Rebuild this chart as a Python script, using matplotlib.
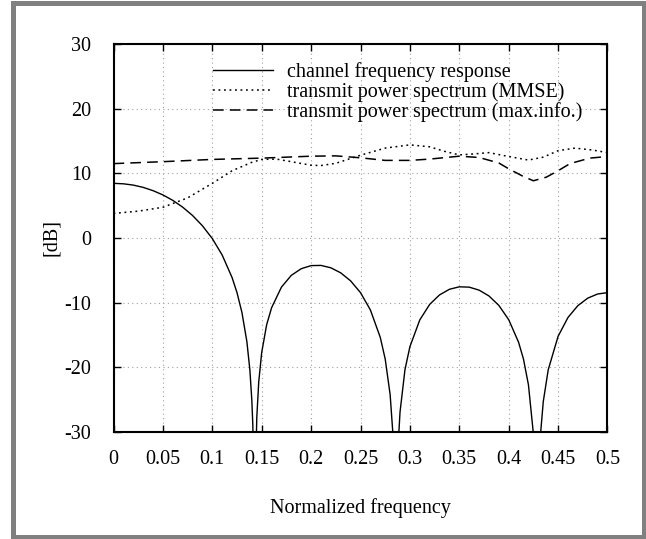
import matplotlib
matplotlib.use("Agg")
import matplotlib.pyplot as plt
from matplotlib.patches import Rectangle

plt.rcParams['font.family'] = ['Liberation Serif', 'DejaVu Serif']
plt.rcParams['axes.unicode_minus'] = False

# channel frequency response [dB] (values below -30 are clipped by the axes)
ch_f = [0.0, 0.01, 0.02, 0.03, 0.04, 0.05, 0.06, 0.07, 0.08, 0.09, 0.10,
        0.11, 0.12, 0.125, 0.13, 0.135, 0.138, 0.140, 0.141, 0.1423, 0.1429,
        0.1434, 0.145, 0.147, 0.15, 0.155, 0.16, 0.17, 0.18, 0.19, 0.20,
        0.21, 0.22, 0.23, 0.24, 0.25, 0.26, 0.27, 0.275, 0.28, 0.283, 0.2857,
        0.288, 0.29, 0.295, 0.30, 0.31, 0.32, 0.33, 0.34, 0.35, 0.36, 0.37,
        0.38, 0.39, 0.40, 0.41, 0.415, 0.42, 0.425, 0.4286, 0.432, 0.435,
        0.44, 0.45, 0.46, 0.47, 0.48, 0.49, 0.50]
ch_db = [8.45, 8.38, 8.18, 7.83, 7.32, 6.66, 5.82, 4.77, 3.48, 1.89, -0.09,
         -2.64, -6.11, -8.45, -11.52, -16.03, -20.36, -25.08, -28.87, -39.4, -60.0,
         -39.7, -27.86, -22.25, -17.70, -13.42, -10.79, -7.59, -5.77, -4.75, -4.27,
         -4.24, -4.61, -5.39, -6.63, -8.45, -11.12, -15.36, -18.71, -24.22, -30.7, -60.0,
         -32.3, -26.93, -20.37, -16.81, -12.67, -10.27, -8.80, -7.93, -7.55, -7.60, -8.06,
         -8.96, -10.42, -12.63, -16.12, -18.75, -22.72, -30.3, -60.0, -30.7, -25.29,
         -20.38, -15.20, -12.29, -10.46, -9.30, -8.66, -8.45]

# transmit power spectrum (MMSE) [dB]
mmse_f = [0.0, 0.025, 0.05, 0.075, 0.10, 0.12, 0.14, 0.15, 0.165, 0.18, 0.20,
          0.21, 0.225, 0.25, 0.275, 0.30, 0.32, 0.335, 0.35, 0.365, 0.38,
          0.40, 0.42, 0.435, 0.45, 0.467, 0.485, 0.50]
mmse_db = [3.8, 4.15, 4.75, 6.2, 8.45, 10.4, 11.7, 12.15, 12.2, 11.8, 11.25,
           11.2, 11.55, 12.8, 13.9, 14.4, 14.1, 13.4, 12.85, 13.0, 13.2,
           12.6, 12.05, 12.5, 13.5, 13.9, 13.6, 13.2]

# transmit power spectrum (max.info.) [dB]
mi_f = [0.0, 0.05, 0.10, 0.15, 0.20, 0.225, 0.25, 0.275, 0.30, 0.32, 0.35,
        0.37, 0.39, 0.40, 0.415, 0.425, 0.438, 0.45, 0.462, 0.482, 0.50]
mi_db = [11.5, 11.8, 12.15, 12.35, 12.65, 12.7, 12.4, 12.0, 12.0, 12.2, 12.65,
         12.45, 11.6, 10.7, 9.5, 8.85, 9.4, 10.4, 11.5, 12.35, 12.6]

xticks = [0, 0.05, 0.1, 0.15, 0.2, 0.25, 0.3, 0.35, 0.4, 0.45, 0.5]
xticklabels = ['0', '0.05', '0.1', '0.15', '0.2', '0.25', '0.3', '0.35', '0.4', '0.45', '0.5']
yticks = [-30, -20, -10, 0, 10, 20, 30]

fs = 14.5

fig = plt.figure(figsize=(6.46, 5.39), dpi=100)
ax = fig.add_axes([0.1757, 0.1985, 0.7647, 0.7199])

ax.plot(ch_f, ch_db, color='black', lw=1.0, label='channel frequency response')
ax.plot(mmse_f, mmse_db, color='black', lw=1.1, linestyle=(0, (1.2, 2.4)),
        label='transmit power spectrum (MMSE)')
ax.plot(mi_f, mi_db, color='black', lw=1.1, linestyle=(0, (7, 4)),
        label='transmit power spectrum (max.info.)')

ax.set_xlim(0, 0.5)
ax.set_ylim(-30, 30)
ax.set_xticks(xticks)
ax.set_xticklabels(xticklabels)
ax.set_yticks(yticks)
ax.grid(True, color='#a0a0a0', linestyle=(0, (1, 3)), lw=0.8)
ax.tick_params(direction='in', length=5, width=1, top=True, right=True,
               labelsize=fs)
ax.tick_params(axis='x', pad=13)
ax.tick_params(axis='y', pad=16)
for s in ax.spines.values():
    s.set_linewidth(1.5)

ax.set_xlabel('Normalized frequency', fontsize=fs)
ax.set_ylabel('[dB]', fontsize=fs)
ax.xaxis.set_label_coords(0.5, -0.196)
ax.yaxis.set_label_coords(-0.1245, 0.5)
ax.xaxis.label.set_va('center')
ax.yaxis.label.set_va('center')

leg = ax.legend(loc='upper left', bbox_to_anchor=(0.185, 0.974), frameon=False,
                fontsize=fs, handlelength=2.98, handletextpad=0.7,
                labelspacing=0.0, borderaxespad=0)

fig.patches.append(Rectangle((13.5 / 646, 2.5 / 539), 630 / 646, 534 / 539,
                             transform=fig.transFigure, fill=False,
                             edgecolor='#808080', lw=3.6))

fig.savefig('out.png', dpi=100)
